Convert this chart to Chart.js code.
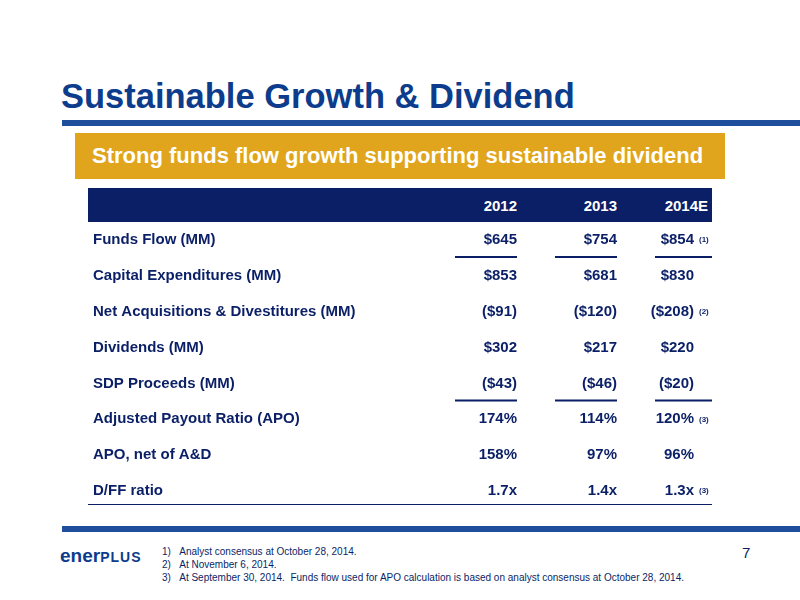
<!DOCTYPE html>
<html><head><meta charset="utf-8">
<script src="https://cdn.jsdelivr.net/npm/chart.js"></script>
<style>
body{margin:0;width:800px;height:600px;background:#fff;font-family:"Liberation Sans",Arial,sans-serif;position:relative;overflow:hidden}
.a{position:absolute}
</style></head><body>
<div class="a" style="left:61px;top:77px;font-size:34.5px;font-weight:bold;color:#0d3c8c">Sustainable Growth &amp; Dividend</div>
<div class="a" style="left:62px;top:120px;width:738px;height:6px;background:#1f4e9c"></div>
<div class="a" style="left:75px;top:133px;width:650px;height:46px;background:#e0a51c"></div>
<div class="a" style="left:92px;top:143px;font-size:22px;font-weight:bold;color:#fff">Strong funds flow growth supporting sustainable dividend</div>
<div class="a" style="left:88px;top:188px;width:624px;height:34px;background:#0a1f66"></div>
<div class="a" style="left:88px;top:222px;width:624px;height:287px"><canvas id="c" width="624" height="287"></canvas></div>
<div class="a" style="left:88px;top:504px;width:624px;height:1px;background:#0a1f66"></div>
<div class="a" style="left:62px;top:526px;width:738px;height:6px;background:#1f4e9c"></div>
<div class="a" style="left:60px;top:545px;font-size:19px;font-weight:bold;color:#0d3c8c">ener<span style="color:#0d3c8c;font-size:14px;letter-spacing:1px">PLUS</span></div>
<div class="a" style="left:162px;top:545px;font-size:10px;line-height:13px;color:#0a1f66">1)&nbsp;&nbsp;&nbsp;Analyst consensus at October 28, 2014.<br>2)&nbsp;&nbsp;&nbsp;At November 6, 2014.<br>3)&nbsp;&nbsp;&nbsp;At September 30, 2014.&nbsp; Funds flow used for APO calculation is based on analyst consensus at October 28, 2014.</div>
<div class="a" style="left:742px;top:544px;font-size:15px;color:#0a1f66">7</div>
<script>
const years=['2012','2013','2014E'];
const rows=['Funds Flow (MM)','Capital Expenditures (MM)','Net Acquisitions & Divestitures (MM)','Dividends (MM)','SDP Proceeds (MM)','Adjusted Payout Ratio (APO)','APO, net of A&D','D/FF ratio'];
const v2012=['$645','$853','($91)','$302','($43)','174%','158%','1.7x'];
const v2013=['$754','$681','($120)','$217','($46)','114%','97%','1.4x'];
const v2014=['$854','$830','($208)','$220','($20)','120%','96%','1.3x'];
const notes=['(1)','','(2)','','','(3)','','(3)'];
const underlineAfter=[0,4];
const cols=[v2012,v2013,v2014];
const colX=[429,529,606];
const navy='#0a1f66';
const tablePlugin={id:'tbl',afterDraw(ch){
 const c=ch.ctx,x=ch.scales.x,y=ch.scales.y;
 rows.forEach((r,i)=>{
  const yy=y.getPixelForValue(i);
  c.fillStyle=navy;c.font='bold 15px "Liberation Sans",Arial';c.textBaseline='middle';c.textAlign='left';
  c.fillText(r,x.getPixelForValue(5),yy);
  cols.forEach((col,j)=>{c.textAlign='right';c.font='bold 15px "Liberation Sans",Arial';c.fillText(col[i],x.getPixelForValue(colX[j]),yy);});
  if(notes[i]){c.textAlign='left';c.font='bold 8px "Liberation Sans",Arial';c.fillText(notes[i],x.getPixelForValue(colX[2]+5),yy);}
  if(underlineAfter.includes(i)){c.strokeStyle=navy;c.lineWidth=2;const ly=yy+17;
   [[367,429],[467,529],[567,624]].forEach(s=>{c.beginPath();c.moveTo(x.getPixelForValue(s[0]),ly);c.lineTo(x.getPixelForValue(s[1]),ly);c.stroke();});}
 });
}};
new Chart(document.getElementById('c'),{type:'scatter',data:{datasets:[]},
 options:{responsive:false,animation:false,layout:{padding:0},plugins:{legend:{display:false},tooltip:{enabled:false}},
 scales:{x:{type:'linear',min:0,max:624,display:false},y:{type:'category',labels:rows.map((_,i)=>i),offset:true,display:false}}},
 plugins:[tablePlugin]});
</script>
<div class="a" style="left:88px;top:188px;width:624px;height:34px;font-size:15px;font-weight:bold;color:#fff">
<span class="a" style="top:9px" id="y0"></span><span class="a" style="top:9px" id="y1"></span><span class="a" style="top:9px" id="y2"></span></div>
<script>
document.getElementById('y0').style.right=(624-429)+'px';document.getElementById('y1').style.right=(624-529)+'px';document.getElementById('y2').style.right='4px';
years.forEach((t,i)=>document.getElementById('y'+i).textContent=t);
</script>
</body></html>
